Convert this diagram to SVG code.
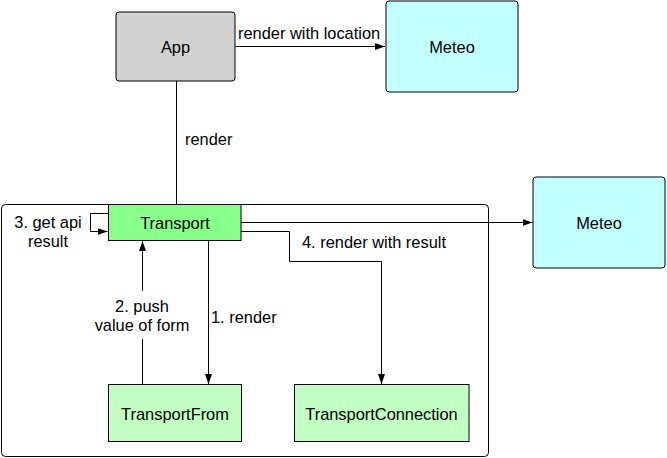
<svg xmlns="http://www.w3.org/2000/svg" width="667" height="458" viewBox="0 0 667 458">
<style>
text{font-family:"Liberation Sans",Arial,sans-serif;font-size:16.4px;fill:#000}
.c{text-anchor:middle}
.n{stroke:#000;stroke-width:1}
.l{fill:none;stroke:#000;stroke-width:1}
</style>
<defs>
<marker id="a" viewBox="0 0 10 10" refX="10" refY="5" markerWidth="10" markerHeight="10" markerUnits="userSpaceOnUse" orient="auto">
<path d="M0,1.5 L10,5 L0,8.5 Z" fill="#000"/>
</marker>
</defs>
<rect width="667" height="458" fill="#fff"/>
<g id="container">
<rect x="1.5" y="204.5" width="487" height="252" rx="4" fill="none" stroke="#000"/>
</g>
<g id="connectors">
<path class="l" d="M235.5,46.5 H385" marker-end="url(#a)"/>
<path class="l" d="M176.5,81 V204.5"/>
<path class="l" d="M241,222.5 H532.5" marker-end="url(#a)"/>
<path class="l" d="M108,213.5 H90.5 V231.5 H107.5" marker-end="url(#a)"/>
<path class="l" d="M241,231.5 H289.5 V261.5 H381.5 V384" marker-end="url(#a)"/>
<path class="l" d="M208.5,240.5 V384" marker-end="url(#a)"/>
<path class="l" d="M142.5,291 V241" marker-end="url(#a)"/>
<path class="l" d="M142.5,384.5 V339"/>
</g>
<g id="labels">
<text x="238" y="39">render with location</text>
<text x="185" y="145">render</text>
<text x="48" y="228" class="c">3. get api</text>
<text x="48" y="247" class="c">result</text>
<text x="302" y="248">4. render with result</text>
<text x="142" y="312" class="c">2. push</text>
<text x="142" y="331" class="c">value of form</text>
<text x="211" y="323">1. render</text>
</g>
<g id="App">
<rect class="n" x="116" y="12" width="119" height="69" rx="3" fill="#d1d1d1"/>
<text x="175.5" y="53" class="c">App</text>
</g>
<g id="Meteo1">
<rect class="n" x="386" y="1" width="132" height="91" rx="3" fill="#c2ffff"/>
<text x="452" y="53" class="c">Meteo</text>
</g>
<g id="Meteo2">
<rect class="n" x="533" y="177" width="132" height="91" rx="3" fill="#c2ffff"/>
<text x="599" y="229" class="c">Meteo</text>
</g>
<g id="Transport">
<rect class="n" x="108.5" y="204.5" width="132.5" height="36" fill="#88ff88"/>
<text x="175" y="229" class="c">Transport</text>
</g>
<g id="TransportFrom">
<rect class="n" x="108.5" y="384.5" width="133" height="57" fill="#c2ffc2"/>
<text x="175" y="420" class="c">TransportFrom</text>
</g>
<g id="TransportConnection">
<rect class="n" x="294.5" y="384.5" width="174.5" height="57" fill="#c2ffc2"/>
<text x="381.5" y="420" class="c">TransportConnection</text>
</g>
</svg>
